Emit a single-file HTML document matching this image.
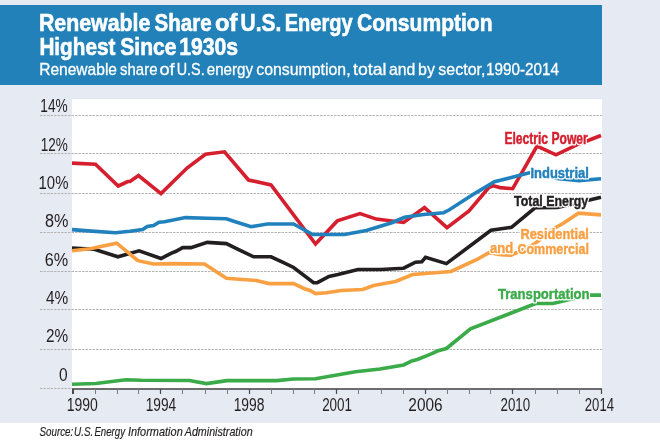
<!DOCTYPE html>
<html><head><meta charset="utf-8"><style>
html,body{margin:0;padding:0;background:#fff;}
svg{display:block;will-change:transform;}
text{font-family:"Liberation Sans",sans-serif;}
</style></head><body>
<svg width="660" height="440" viewBox="0 0 660 440">
<rect x="0" y="0" width="660" height="423" fill="#e6eaf3"/>
<rect x="0" y="5" width="602" height="80" fill="#2281b8"/>
<rect x="72" y="99" width="530" height="290" fill="#fff"/>
<text x="38.98" y="31.20" font-size="24.20" textLength="111.39" lengthAdjust="spacingAndGlyphs" font-weight="bold" fill="#fff" stroke="#fff" stroke-width="0.60">Renewable</text>
<text x="154.62" y="31.20" font-size="24.20" textLength="56.99" lengthAdjust="spacingAndGlyphs" font-weight="bold" fill="#fff" stroke="#fff" stroke-width="0.60">Share</text>
<text x="214.91" y="31.20" font-size="24.20" textLength="22.45" lengthAdjust="spacingAndGlyphs" font-weight="bold" fill="#fff" stroke="#fff" stroke-width="0.60">of</text>
<text x="240.61" y="31.20" font-size="24.20" textLength="40.69" lengthAdjust="spacingAndGlyphs" font-weight="bold" fill="#fff" stroke="#fff" stroke-width="0.60">U.S.</text>
<text x="284.66" y="31.20" font-size="24.20" textLength="67.98" lengthAdjust="spacingAndGlyphs" font-weight="bold" fill="#fff" stroke="#fff" stroke-width="0.60">Energy</text>
<text x="356.95" y="31.20" font-size="24.20" textLength="135.62" lengthAdjust="spacingAndGlyphs" font-weight="bold" fill="#fff" stroke="#fff" stroke-width="0.60">Consumption</text>
<text x="39.42" y="54.70" font-size="24.20" textLength="75.94" lengthAdjust="spacingAndGlyphs" font-weight="bold" fill="#fff" stroke="#fff" stroke-width="0.60">Highest</text>
<text x="120.30" y="54.70" font-size="24.20" textLength="56.23" lengthAdjust="spacingAndGlyphs" font-weight="bold" fill="#fff" stroke="#fff" stroke-width="0.60">Since</text>
<text x="179.19" y="54.70" font-size="24.20" textLength="58.92" lengthAdjust="spacingAndGlyphs" font-weight="bold" fill="#fff" stroke="#fff" stroke-width="0.60">1930s</text>
<text x="39.20" y="75.00" font-size="17.00" textLength="77.83" lengthAdjust="spacingAndGlyphs" fill="#fff" stroke="#fff" stroke-width="0.30">Renewable</text>
<text x="120.00" y="75.00" font-size="17.00" textLength="37.47" lengthAdjust="spacingAndGlyphs" fill="#fff" stroke="#fff" stroke-width="0.30">share</text>
<text x="159.49" y="75.00" font-size="17.00" textLength="15.12" lengthAdjust="spacingAndGlyphs" fill="#fff" stroke="#fff" stroke-width="0.30">of</text>
<text x="176.70" y="75.00" font-size="17.00" textLength="27.96" lengthAdjust="spacingAndGlyphs" fill="#fff" stroke="#fff" stroke-width="0.30">U.S.</text>
<text x="206.74" y="75.00" font-size="17.00" textLength="46.38" lengthAdjust="spacingAndGlyphs" fill="#fff" stroke="#fff" stroke-width="0.30">energy</text>
<text x="256.31" y="75.00" font-size="17.00" textLength="94.28" lengthAdjust="spacingAndGlyphs" fill="#fff" stroke="#fff" stroke-width="0.30">consumption,</text>
<text x="353.11" y="75.00" font-size="17.00" textLength="33.40" lengthAdjust="spacingAndGlyphs" fill="#fff" stroke="#fff" stroke-width="0.30">total</text>
<text x="389.01" y="75.00" font-size="17.00" textLength="26.37" lengthAdjust="spacingAndGlyphs" fill="#fff" stroke="#fff" stroke-width="0.30">and</text>
<text x="418.04" y="75.00" font-size="17.00" textLength="16.86" lengthAdjust="spacingAndGlyphs" fill="#fff" stroke="#fff" stroke-width="0.30">by</text>
<text x="438.37" y="75.00" font-size="17.00" textLength="47.06" lengthAdjust="spacingAndGlyphs" fill="#fff" stroke="#fff" stroke-width="0.30">sector,</text>
<text x="486.03" y="75.00" font-size="17.00" textLength="73.07" lengthAdjust="spacingAndGlyphs" fill="#fff" stroke="#fff" stroke-width="0.30">1990-2014</text>
<line x1="40" y1="115.5" x2="602" y2="115.5" stroke="#b4b4b4" stroke-width="1" stroke-dasharray="2.5 1"/>
<line x1="40" y1="153.5" x2="602" y2="153.5" stroke="#b4b4b4" stroke-width="1" stroke-dasharray="2.5 1"/>
<line x1="40" y1="193.5" x2="602" y2="193.5" stroke="#b4b4b4" stroke-width="1" stroke-dasharray="2.5 1"/>
<line x1="40" y1="232.5" x2="602" y2="232.5" stroke="#b4b4b4" stroke-width="1" stroke-dasharray="2.5 1"/>
<line x1="40" y1="271.5" x2="602" y2="271.5" stroke="#b4b4b4" stroke-width="1" stroke-dasharray="2.5 1"/>
<line x1="40" y1="309.5" x2="602" y2="309.5" stroke="#b4b4b4" stroke-width="1" stroke-dasharray="2.5 1"/>
<line x1="40" y1="349.5" x2="602" y2="349.5" stroke="#b4b4b4" stroke-width="1" stroke-dasharray="2.5 1"/>
<line x1="40" y1="388.5" x2="72" y2="388.5" stroke="#b4b4b4" stroke-width="1" stroke-dasharray="2.5 1"/>
<text x="40.36" y="111.70" font-size="18.30" textLength="27.31" lengthAdjust="spacingAndGlyphs" fill="#231f20">14%</text>
<text x="40.77" y="150.80" font-size="18.30" textLength="27.10" lengthAdjust="spacingAndGlyphs" fill="#231f20">12%</text>
<text x="38.56" y="189.00" font-size="18.30" textLength="29.86" lengthAdjust="spacingAndGlyphs" fill="#231f20">10%</text>
<text x="44.89" y="227.40" font-size="18.30" textLength="23.45" lengthAdjust="spacingAndGlyphs" fill="#231f20">8%</text>
<text x="44.79" y="265.90" font-size="18.30" textLength="23.45" lengthAdjust="spacingAndGlyphs" fill="#231f20">6%</text>
<text x="45.94" y="303.60" font-size="18.30" textLength="22.25" lengthAdjust="spacingAndGlyphs" fill="#231f20">4%</text>
<text x="46.03" y="342.30" font-size="18.30" textLength="22.16" lengthAdjust="spacingAndGlyphs" fill="#231f20">2%</text>
<text x="59.08" y="380.60" font-size="18.30" textLength="8.63" lengthAdjust="spacingAndGlyphs" fill="#231f20">0</text>
<polyline points="72.0,163.1 95.5,164.2 118.2,186.0 127.8,181.5 130.0,181.5 138.5,175.5 161.0,193.6 187.3,167.8 205.5,154.2 224.5,151.8 248.5,180.0 271.0,184.9 315.5,244.0 337.3,220.9 360.0,213.6 376.4,219.1 391.8,221.0 403.6,222.4 424.5,207.6 447.0,227.6 469.0,211.0 489.0,187.3 493.6,185.8 500.0,187.6 512.7,188.7 537.0,146.0 556.0,154.8 578.3,144.2 601.0,135.5" fill="none" stroke="#d51f2e" stroke-width="3.6" stroke-linejoin="miter" stroke-miterlimit="3"/>
<polyline points="72.0,229.6 88.2,230.9 115.5,232.7 130.0,231.3 142.7,229.6 147.3,226.4 153.6,225.5 159.0,222.2 164.5,221.8 185.5,217.6 207.3,218.2 226.4,218.7 234.5,221.5 251.0,226.7 267.3,224.0 293.6,224.0 312.7,234.5 344.5,234.5 366.4,230.5 391.8,222.7 404.5,217.3 423.6,214.5 443.6,212.7 449.0,210.0 474.5,193.6 494.5,181.8 535.0,171.3 557.0,178.6 579.0,180.6 601.0,178.8" fill="none" stroke="#2081bd" stroke-width="3.6" stroke-linejoin="miter" stroke-miterlimit="3"/>
<polyline points="72.0,248.0 94.2,249.3 117.9,256.8 139.1,250.8 161.0,258.5 171.0,253.3 175.5,251.5 182.7,247.6 191.0,247.6 207.3,242.4 226.4,243.6 234.5,247.6 253.6,256.8 271.0,256.8 283.6,262.7 293.6,267.5 313.6,282.7 317.3,282.7 329.0,276.4 338.0,274.5 358.0,269.5 381.0,269.5 403.6,268.2 415.5,262.2 421.8,261.8 425.5,257.3 446.4,263.6 491.0,230.3 511.5,227.3 535.0,207.8 557.5,207.5 579.0,202.5 601.0,197.2" fill="none" stroke="#231f20" stroke-width="3.6" stroke-linejoin="miter" stroke-miterlimit="3"/>
<polyline points="72.0,250.8 90.0,248.7 116.7,243.2 136.5,259.5 137.9,260.7 153.6,264.0 171.8,263.6 204.5,264.0 226.4,278.2 256.4,280.5 269.0,283.6 293.6,283.6 304.5,288.7 310.0,290.5 315.5,293.6 326.4,292.7 341.0,290.5 362.7,289.5 373.6,285.5 395.5,281.5 412.7,274.5 451.0,271.5 477.0,259.5 489.0,252.7 501.0,254.8 511.0,255.2 517.0,252.5 535.0,243.5 554.0,228.5 563.3,223.2 578.5,213.2 601.0,214.9" fill="none" stroke="#f9a043" stroke-width="3.6" stroke-linejoin="miter" stroke-miterlimit="3"/>
<polyline points="72.0,384.2 95.8,383.5 126.0,379.7 141.2,380.2 189.4,380.5 206.4,383.6 227.0,380.6 276.7,380.6 293.6,379.0 315.5,378.8 355.5,371.8 380.0,369.0 403.6,364.9 411.8,360.9 417.3,359.5 426.4,355.8 431.8,353.6 437.3,351.0 446.4,348.5 470.5,328.8 535.6,303.5 553.0,303.5 567.5,300.0 590.0,295.1 601.0,295.1" fill="none" stroke="#3bab4a" stroke-width="3.6" stroke-linejoin="miter" stroke-miterlimit="3"/>
<line x1="72" y1="389" x2="602" y2="389" stroke="#6d6d6d" stroke-width="2"/>
<line x1="73.0" y1="389" x2="73.0" y2="394" stroke="#4a4a4a" stroke-width="2.0"/>
<line x1="95.5" y1="389" x2="95.5" y2="394" stroke="#7a7a7a" stroke-width="1.0"/>
<line x1="117.5" y1="389" x2="117.5" y2="394" stroke="#7a7a7a" stroke-width="1.0"/>
<line x1="138.5" y1="389" x2="138.5" y2="394" stroke="#7a7a7a" stroke-width="1.0"/>
<line x1="160.5" y1="389" x2="160.5" y2="394" stroke="#4a4a4a" stroke-width="1.2"/>
<line x1="182.5" y1="389" x2="182.5" y2="394" stroke="#7a7a7a" stroke-width="1.0"/>
<line x1="205.5" y1="389" x2="205.5" y2="394" stroke="#7a7a7a" stroke-width="1.0"/>
<line x1="227.5" y1="389" x2="227.5" y2="394" stroke="#7a7a7a" stroke-width="1.0"/>
<line x1="249.5" y1="389" x2="249.5" y2="394" stroke="#4a4a4a" stroke-width="1.2"/>
<line x1="271.5" y1="389" x2="271.5" y2="394" stroke="#7a7a7a" stroke-width="1.0"/>
<line x1="293.5" y1="389" x2="293.5" y2="394" stroke="#7a7a7a" stroke-width="1.0"/>
<line x1="314.5" y1="389" x2="314.5" y2="394" stroke="#7a7a7a" stroke-width="1.0"/>
<line x1="336.5" y1="389" x2="336.5" y2="394" stroke="#4a4a4a" stroke-width="1.2"/>
<line x1="358.5" y1="389" x2="358.5" y2="394" stroke="#7a7a7a" stroke-width="1.0"/>
<line x1="381.5" y1="389" x2="381.5" y2="394" stroke="#7a7a7a" stroke-width="1.0"/>
<line x1="403.5" y1="389" x2="403.5" y2="394" stroke="#7a7a7a" stroke-width="1.0"/>
<line x1="425.5" y1="389" x2="425.5" y2="394" stroke="#4a4a4a" stroke-width="1.2"/>
<line x1="447.5" y1="389" x2="447.5" y2="394" stroke="#7a7a7a" stroke-width="1.0"/>
<line x1="469.5" y1="389" x2="469.5" y2="394" stroke="#7a7a7a" stroke-width="1.0"/>
<line x1="490.5" y1="389" x2="490.5" y2="394" stroke="#7a7a7a" stroke-width="1.0"/>
<line x1="512.5" y1="389" x2="512.5" y2="394" stroke="#4a4a4a" stroke-width="1.2"/>
<line x1="535.5" y1="389" x2="535.5" y2="394" stroke="#7a7a7a" stroke-width="1.0"/>
<line x1="557.5" y1="389" x2="557.5" y2="394" stroke="#7a7a7a" stroke-width="1.0"/>
<line x1="579.5" y1="389" x2="579.5" y2="394" stroke="#7a7a7a" stroke-width="1.0"/>
<line x1="601.5" y1="389" x2="601.5" y2="394" stroke="#4a4a4a" stroke-width="1.2"/>
<text x="66.73" y="410.50" font-size="18.30" textLength="31.15" lengthAdjust="spacingAndGlyphs" fill="#231f20">1990</text>
<text x="145.65" y="410.50" font-size="18.30" textLength="30.59" lengthAdjust="spacingAndGlyphs" fill="#231f20">1994</text>
<text x="233.65" y="410.50" font-size="18.30" textLength="30.83" lengthAdjust="spacingAndGlyphs" fill="#231f20">1998</text>
<text x="322.13" y="410.50" font-size="18.30" textLength="29.96" lengthAdjust="spacingAndGlyphs" fill="#231f20">2001</text>
<text x="408.33" y="410.50" font-size="18.30" textLength="34.31" lengthAdjust="spacingAndGlyphs" fill="#231f20">2006</text>
<text x="500.53" y="410.50" font-size="18.30" textLength="29.62" lengthAdjust="spacingAndGlyphs" fill="#231f20">2010</text>
<text x="584.85" y="410.50" font-size="18.30" textLength="29.08" lengthAdjust="spacingAndGlyphs" fill="#231f20">2014</text>
<text x="504.39" y="143.80" font-size="15.70" textLength="83.41" lengthAdjust="spacingAndGlyphs" font-weight="bold" fill="#fff" stroke="#fff" stroke-width="3.2" stroke-linejoin="round">Electric Power</text>
<text x="504.39" y="143.80" font-size="15.70" textLength="83.41" lengthAdjust="spacingAndGlyphs" font-weight="bold" fill="#d51f2e" stroke="#d51f2e" stroke-width="0.45">Electric Power</text>
<text x="530.43" y="178.40" font-size="15.40" textLength="58.44" lengthAdjust="spacingAndGlyphs" font-weight="bold" fill="#fff" stroke="#fff" stroke-width="3.2" stroke-linejoin="round">Industrial</text>
<text x="530.43" y="178.40" font-size="15.40" textLength="58.44" lengthAdjust="spacingAndGlyphs" font-weight="bold" fill="#2081bd" stroke="#2081bd" stroke-width="0.45">Industrial</text>
<text x="514.09" y="206.40" font-size="15.40" textLength="74.10" lengthAdjust="spacingAndGlyphs" font-weight="bold" fill="#fff" stroke="#fff" stroke-width="3.2" stroke-linejoin="round">Total Energy</text>
<text x="514.09" y="206.40" font-size="15.40" textLength="74.10" lengthAdjust="spacingAndGlyphs" font-weight="bold" fill="#231f20" stroke="#231f20" stroke-width="0.45">Total Energy</text>
<text x="520.44" y="239.10" font-size="15.40" textLength="68.43" lengthAdjust="spacingAndGlyphs" font-weight="bold" fill="#fff" stroke="#fff" stroke-width="3.2" stroke-linejoin="round">Residential</text>
<text x="520.44" y="239.10" font-size="15.40" textLength="68.43" lengthAdjust="spacingAndGlyphs" font-weight="bold" fill="#f9a043" stroke="#f9a043" stroke-width="0.45">Residential</text>
<text x="490.07" y="253.40" font-size="15.40" textLength="23.13" lengthAdjust="spacingAndGlyphs" font-weight="bold" fill="#fff" stroke="#fff" stroke-width="3.2" stroke-linejoin="round">and</text>
<text x="490.07" y="253.40" font-size="15.40" textLength="23.13" lengthAdjust="spacingAndGlyphs" font-weight="bold" fill="#f9a043" stroke="#f9a043" stroke-width="0.45">and</text>
<text x="517.48" y="253.60" font-size="15.40" textLength="71.46" lengthAdjust="spacingAndGlyphs" font-weight="bold" fill="#fff" stroke="#fff" stroke-width="3.2" stroke-linejoin="round">Commercial</text>
<text x="517.48" y="253.60" font-size="15.40" textLength="71.46" lengthAdjust="spacingAndGlyphs" font-weight="bold" fill="#f9a043" stroke="#f9a043" stroke-width="0.45">Commercial</text>
<text x="497.98" y="298.70" font-size="15.40" textLength="91.60" lengthAdjust="spacingAndGlyphs" font-weight="bold" fill="#fff" stroke="#fff" stroke-width="3.2" stroke-linejoin="round">Transportation</text>
<text x="497.98" y="298.70" font-size="15.40" textLength="91.60" lengthAdjust="spacingAndGlyphs" font-weight="bold" fill="#3bab4a" stroke="#3bab4a" stroke-width="0.45">Transportation</text>
<text x="39.47" y="436.40" font-size="13.20" textLength="33.78" lengthAdjust="spacingAndGlyphs" font-style="italic" fill="#231f20" stroke="#231f20" stroke-width="0.2">Source:</text>
<text x="74.08" y="436.40" font-size="13.20" textLength="19.19" lengthAdjust="spacingAndGlyphs" font-style="italic" fill="#231f20" stroke="#231f20" stroke-width="0.2">U.S.</text>
<text x="94.38" y="436.40" font-size="13.20" textLength="30.66" lengthAdjust="spacingAndGlyphs" font-style="italic" fill="#231f20" stroke="#231f20" stroke-width="0.2">Energy</text>
<text x="127.93" y="436.40" font-size="13.20" textLength="54.84" lengthAdjust="spacingAndGlyphs" font-style="italic" fill="#231f20" stroke="#231f20" stroke-width="0.2">Information</text>
<text x="184.74" y="436.40" font-size="13.20" textLength="67.93" lengthAdjust="spacingAndGlyphs" font-style="italic" fill="#231f20" stroke="#231f20" stroke-width="0.2">Administration</text>
</svg></body></html>
